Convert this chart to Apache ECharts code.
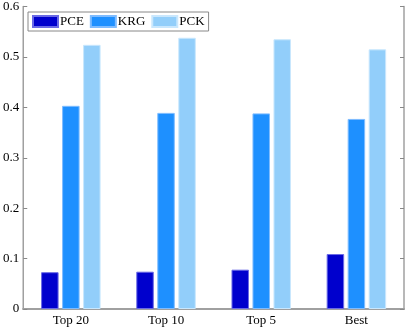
<!DOCTYPE html>
<html lang="en">
<head>
    <meta charset="UTF-8">
    <title>PCE / KRG / PCK</title>
    <script src="https://cdn.jsdelivr.net/npm/echarts@6.0.0/dist/echarts.min.js"></script>
    <style>
        html, body { margin: 0; padding: 0; background: #fff; }
    </style>
</head>
<body>
    <div id="main" style="width: 407px;height:330px;"></div>
    <script type="text/javascript">
        // data
        const categories = ['Top 20', 'Top 10', 'Top 5', 'Best'];
        const pce = [0.073, 0.074, 0.078, 0.109];
        const krg = [0.403, 0.389, 0.388, 0.377];
        const pck = [0.524, 0.538, 0.535, 0.515];

        const font = 'Liberation Serif';
        const axisGrey = '#a0a0a0';

        function barSeries(name, data, color, edge) {
            return {
                name: name,
                type: 'bar',
                data: data,
                barWidth: 17.5,
                barGap: '20%',
                itemStyle: { color: color, borderColor: edge, borderWidth: 1 }
            };
        }

        let options = {
            animation: false,
            textStyle: { fontFamily: font },
            grid: { left: 22.5, right: 3, top: 6, bottom: 21 },
            legend: {
                left: 28, top: 12,
                padding: [3, 4],
                itemWidth: 25, itemHeight: 11, itemGap: 6,
                icon: 'rect',
                borderColor: '#888', borderWidth: 1,
                textStyle: { fontFamily: font, fontSize: 13, color: '#000', padding: [0, 0, 0, -3] },
                data: ['PCE', 'KRG', 'PCK']
            },
            xAxis: [{
                type: 'category',
                data: categories,
                axisLine: { lineStyle: { color: axisGrey, width: 2 } },
                axisTick: { inside: true, alignWithLabel: true, length: 4, lineStyle: { color: '#777' } },
                axisLabel: { fontFamily: font, fontSize: 13, color: '#000', margin: 5 }
            }, {
                type: 'category',
                position: 'top',
                data: categories,
                axisLine: { lineStyle: { color: axisGrey, width: 1.5 } },
                axisTick: { inside: true, alignWithLabel: true, length: 4, lineStyle: { color: '#999' } },
                axisLabel: { show: false }
            }],
            yAxis: [{
                type: 'value',
                min: 0, max: 0.6, interval: 0.1,
                splitLine: { show: false },
                axisLine: { show: true, lineStyle: { color: axisGrey, width: 1.5 } },
                axisTick: { show: true, inside: true, length: 4, lineStyle: { color: '#888' } },
                axisLabel: { fontFamily: font, fontSize: 13, color: '#000', margin: 4,
                    formatter: v => v === 0 ? '0' : v.toFixed(1) }
            }, {
                type: 'value',
                position: 'right',
                min: 0, max: 0.6, interval: 0.1,
                splitLine: { show: false },
                axisLine: { show: true, lineStyle: { color: axisGrey, width: 1.5 } },
                axisTick: { show: true, inside: true, length: 4, lineStyle: { color: '#888' } },
                axisLabel: { show: false }
            }],
            series: [
                barSeries('PCE', pce, '#0000CD', '#6a6ae6'),
                barSeries('KRG', krg, '#1E90FF', '#7fbcff'),
                barSeries('PCK', pck, '#92CEFA', '#c9e7fd')
            ]
        };

        let myChart = echarts.init(document.getElementById('main'));
        myChart.setOption(options);
    </script>
</body>
</html>
